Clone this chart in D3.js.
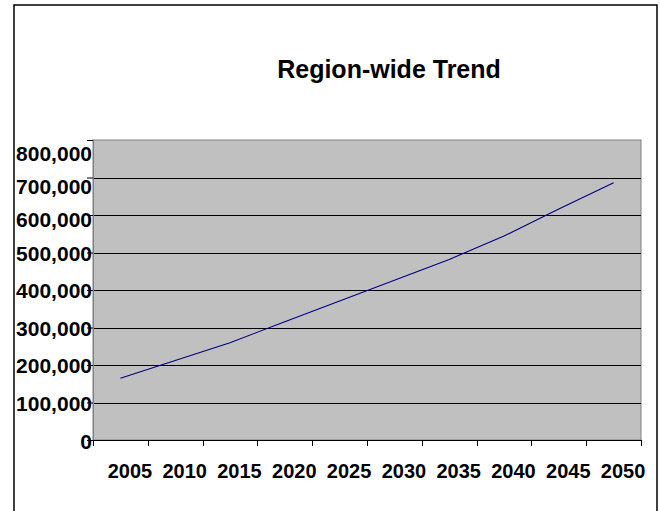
<!DOCTYPE html>
<html>
<head>
<meta charset="utf-8">
<script src="https://cdn.jsdelivr.net/npm/d3@7"></script>
<style>
  html, body { margin: 0; padding: 0; background: #fff; }
  svg { display: block; }
  text { font-family: "Liberation Sans", Arial, sans-serif; font-weight: bold; fill: #000; }
</style>
</head>
<body>
<svg id="chart" width="660" height="511"></svg>
<script>
const title = "Region-wide Trend";
const years = ["2005","2010","2015","2020","2025","2030","2035","2040","2045","2050"];
const values = [164500, 212000, 259500, 315500, 370500, 426000, 481500, 544000, 616000, 686000];
const yTicks = [0, 100000, 200000, 300000, 400000, 500000, 600000, 700000, 800000];

const svg = d3.select("#chart");
const plot = { left: 93, top: 140, right: 641, bottom: 440 };

// outer frame
svg.append("rect")
  .attr("x", 14).attr("y", 5).attr("width", 643).attr("height", 520)
  .attr("fill", "#fff").attr("stroke", "#000").attr("stroke-width", 1.5);

const x = d3.scaleBand().domain(years).range([plot.left, plot.right]).padding(0);
const y = d3.scaleLinear().domain([0, 800000]).range([plot.bottom, plot.top]);
// label placement scale (labels in the reference sit slightly off the gridlines)
const yLab = d3.scaleLinear().domain([0, 500000, 800000]).range([441, 253, 153]);

// plot background
svg.append("rect")
  .attr("x", plot.left).attr("y", plot.top)
  .attr("width", plot.right - plot.left).attr("height", plot.bottom - plot.top)
  .attr("fill", "#c0c0c0").attr("stroke", "#808080").attr("stroke-width", 1);

// gridlines
svg.append("g").selectAll("line").data(yTicks.filter(d => d > 0 && d < 800000)).join("line")
  .attr("x1", plot.left).attr("x2", plot.right)
  .attr("y1", d => Math.round(y(d)) + 0.5).attr("y2", d => Math.round(y(d)) + 0.5)
  .attr("stroke", "#000").attr("stroke-width", 1);

// y axis
const yAxis = svg.append("g").attr("transform", `translate(${plot.left},0)`)
  .call(d3.axisLeft(y).tickValues(yTicks).tickSize(6).tickFormat(""));
yAxis.select(".domain").attr("stroke", "#808080");
yAxis.selectAll(".tick line").attr("stroke", "#000");

svg.append("g").selectAll("text").data(yTicks).join("text")
  .attr("x", 92).attr("y", d => yLab(d))
  .attr("dy", "0.36em")
  .attr("text-anchor", "end")
  .attr("font-size", 21)
  .text(d => d3.format(",")(d));

// x axis
const xAxis = svg.append("g").attr("transform", `translate(0,${plot.bottom})`)
  .call(d3.axisBottom(x).tickSize(0).tickFormat(""));
xAxis.select(".domain").attr("stroke", "#000");
svg.append("g").selectAll("line").data(years.concat(["end"])).join("line")
  .attr("x1", (d, i) => Math.round(i < years.length ? x(d) : plot.right) + 0.5)
  .attr("x2", (d, i) => Math.round(i < years.length ? x(d) : plot.right) + 0.5)
  .attr("y1", plot.bottom).attr("y2", plot.bottom + 6)
  .attr("stroke", "#000");
svg.append("g").selectAll("text").data(years).join("text")
  .attr("x", d => x(d) + x.bandwidth() / 2 + 9.5)
  .attr("y", 478)
  .attr("text-anchor", "middle")
  .attr("font-size", 20)
  .text(d => d);

// line
const line = d3.line()
  .x((d, i) => x(years[i]) + x.bandwidth() / 2)
  .y(d => y(d));
svg.append("path").datum(values)
  .attr("d", line)
  .attr("fill", "none").attr("stroke", "#000080").attr("stroke-width", 1.1);

// title
svg.append("text")
  .attr("x", 389).attr("y", 78)
  .attr("text-anchor", "middle")
  .attr("font-size", 25)
  .text(title);
</script>
</body>
</html>
